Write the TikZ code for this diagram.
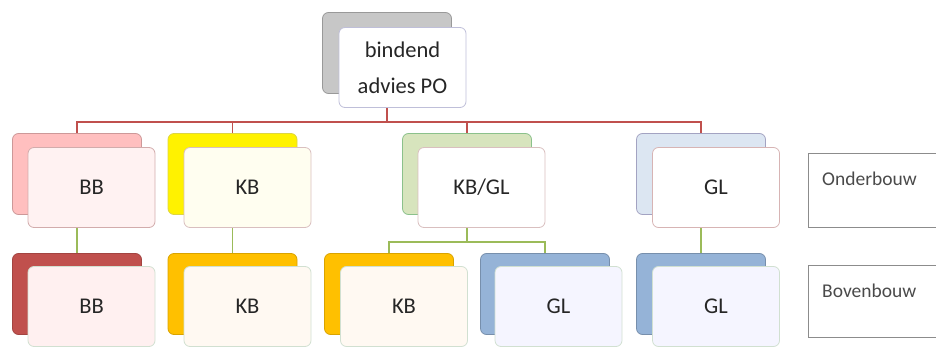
\documentclass[tikz,border=0pt]{standalone}
\usepackage{fontspec}
\setmainfont{Carlito}
\usetikzlibrary{backgrounds}
\definecolor{txt}{HTML}{262626}
\definecolor{lbl}{HTML}{4A4A4A}
\definecolor{redln}{HTML}{C0504D}
\definecolor{grnln}{HTML}{9BBB59}
\definecolor{bluebk}{HTML}{95B3D7}
\definecolor{orgbk}{HTML}{FFC000}
\tikzset{
  back/.style={draw, rounded corners=6pt, minimum width=129pt, minimum height=81pt, line width=0.8pt, inner sep=0pt},
  front/.style={draw, rounded corners=6pt, minimum width=127pt, minimum height=80pt, line width=0.8pt, inner sep=0pt, font=\fontsize{22.5}{26}\selectfont, text=txt},
  redc/.style={draw=redln, line width=1.8pt},
  grnc/.style={draw=grnln, line width=1.5pt},
  legend/.style={draw=gray!90, line width=1pt},
  legtext/.style={anchor=base west, inner sep=0pt, font=\fontsize{19.5}{22}\selectfont, text=lbl}
}
\begin{document}
\begin{tikzpicture}[x=1pt,y=-1pt]
\useasboundingbox (0,0) rectangle (936,350);
% top
\node[back, fill=black!22, draw=black!40] (topb) at (387,53) {};
\node[front, fill=white, draw=blue!25!gray!40, align=center, font=\fontsize{22.5}{36}\selectfont] (topf) at (402.5,67.5) {bindend\\advies PO};
% row 1
\node[back, fill=red!25, draw=red!35!gray!60] (r1bbb) at (77,174) {};
\node[front, fill=red!5, draw=red!30!gray!50] (r1bbf) at (91.5,187.5) {BB};
\node[back, fill=yellow, draw=yellow!70!gray] (r1kbb) at (232.5,174) {};
\node[front, fill=yellow!6, draw=red!25!gray!40] (r1kbf) at (247.5,187.5) {KB};
\node[back, fill={rgb,255:red,215;green,228;blue,189}, draw=green!30!gray!70] (r1kgb) at (467,174) {};
\node[front, fill=white, draw=red!25!gray!40] (r1kgf) at (481.5,187.5) {KB/GL};
\node[back, fill={rgb,255:red,220;green,230;blue,242}, draw=blue!20!gray!60] (r1glb) at (701,174) {};
\node[front, fill=white, draw=red!30!gray!45] (r1glf) at (716,187.5) {GL};
% row 2
\node[back, fill=redln, draw=redln!85!black] (r2bbb) at (77,294) {};
\node[front, fill=red!6, draw=green!20!gray!30] (r2bbf) at (91.5,306.5) {BB};
\node[back, fill=orgbk, draw=orgbk!85!black] (r2kbb) at (232.5,294) {};
\node[front, fill=orange!5, draw=green!20!gray!30] (r2kbf) at (247.5,306.5) {KB};
\node[back, fill=orgbk, draw=orgbk!85!black] (r2kmb) at (389,294) {};
\node[front, fill=orange!5, draw=green!20!gray!30] (r2kmf) at (404,306.5) {KB};
\node[back, fill=bluebk, draw=bluebk!80!black] (r2gmb) at (545,294) {};
\node[front, fill=blue!4, draw=green!20!gray!30] (r2gmf) at (558.5,306.5) {GL};
\node[back, fill=bluebk, draw=bluebk!80!black] (r2glb) at (701,294) {};
\node[front, fill=blue!4, draw=green!20!gray!30] (r2glf) at (716,306.5) {GL};
% legend
\node[legend, minimum width=130pt, minimum height=74pt, anchor=north west] (onder) at (808,153) {};
\node[legtext] (ondert) at (822,185) {Onderbouw};
\node[legend, minimum width=130pt, minimum height=72pt, anchor=north west] (boven) at (808,265) {};
\node[legtext] (bovent) at (822,297) {Bovenbouw};
% connectors
\coordinate (bar) at (0,122);
\coordinate (gbar) at (0,242);
\begin{scope}[on background layer]
\draw[redc] (topb.center) -- (topb.center |- bar);
\draw[redc] (r1bbb.center) -- (r1bbb.center |- bar) -- (r1glb.center |- bar) -- (r1glb.center);
\draw[redc] (r1kbb.center) -- (r1kbb.center |- bar);
\draw[redc] (r1kgb.center) -- (r1kgb.center |- bar);
\draw[grnc] (r1bbb.center) -- (r2bbb.center);
\draw[grnc] (r1kbb.center) -- (r2kbb.center);
\draw[grnc] (r1glb.center) -- (r2glb.center);
\draw[grnc] (r1kgb.center) -- (r1kgb.center |- gbar);
\draw[grnc] (r2kmb.center) -- (r2kmb.center |- gbar) -- (r2gmb.center |- gbar) -- (r2gmb.center);
\end{scope}
\end{tikzpicture}
\end{document}
